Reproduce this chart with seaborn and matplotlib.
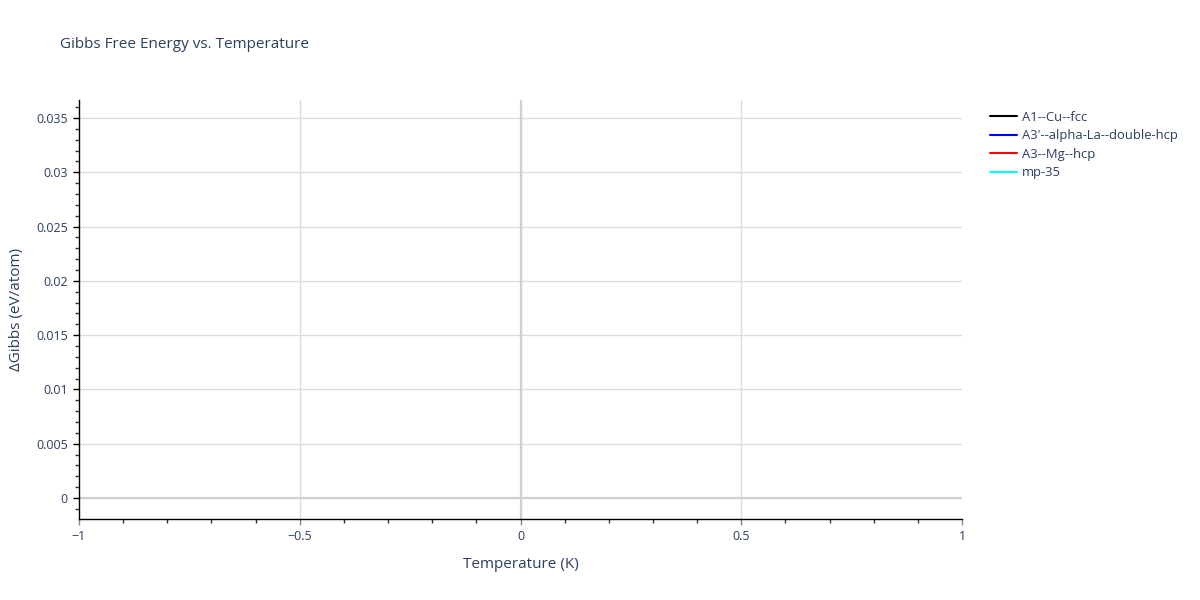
import numpy as np
import pandas as pd
import matplotlib
matplotlib.use("Agg")
import matplotlib.pyplot as plt
from matplotlib.ticker import MultipleLocator, FuncFormatter
import seaborn as sns

# structures in the legend, and their (empty-looking) curves
structures = ["A1--Cu--fcc", "A3'--alpha-La--double-hcp", "A3--Mg--hcp", "mp-35"]
line_colors = ["black", "blue", "red", "cyan"]
temperatures = [0.0]  # only T = 0 K available, so no visible segments
dgibbs = {
    "A1--Cu--fcc": [0.0],
    "A3'--alpha-La--double-hcp": [0.0],
    "A3--Mg--hcp": [0.0],
    "mp-35": [0.0],
}

x_ticks = [-1, -0.5, 0, 0.5, 1]
y_ticks = [0, 0.005, 0.01, 0.015, 0.02, 0.025, 0.03, 0.035]

rows = []
for s in structures:
    for t, g in zip(temperatures, dgibbs[s]):
        rows.append({"Temperature": t, "dG": g, "structure": s})
df = pd.DataFrame(rows)

sns.set_style("white")
plt.rcParams["font.family"] = ["Open Sans", "DejaVu Sans"]
txt = "#2a3f5f"

fig = plt.figure(figsize=(12, 6), dpi=100)
ax = fig.add_axes([79 / 1200, 81 / 600, 883 / 1200, 419 / 600])

sns.lineplot(data=df, x="Temperature", y="dG", hue="structure",
             hue_order=structures, palette=line_colors, ax=ax, lw=1.5)
handles, labels = ax.get_legend_handles_labels()
ax.get_legend().remove()

ax.set_xlim(-1, 1)
ax.set_ylim(-0.00193, 0.03666)
ax.set_xticks(x_ticks)
ax.set_yticks(y_ticks)
ax.xaxis.set_minor_locator(MultipleLocator(0.1))
ax.yaxis.set_minor_locator(MultipleLocator(0.001))
ax.xaxis.set_major_formatter(FuncFormatter(lambda v, p: f"{v:g}".replace("-", "\u2212")))
ax.yaxis.set_major_formatter(FuncFormatter(lambda v, p: f"{v:g}"))

ax.grid(True, which="major", color="#dcdcdc", lw=1.0)
for tk, gl in zip(ax.get_xticks(), ax.get_xgridlines()):
    if abs(tk) == 1:
        gl.set_visible(False)
ax.axhline(0, color="#d0d0d0", lw=1.6, zorder=1)
ax.axvline(0, color="#d0d0d0", lw=1.6, zorder=1)
ax.set_axisbelow(True)

for side in ["top", "right"]:
    ax.spines[side].set_visible(False)
for side in ["left", "bottom"]:
    ax.spines[side].set_color("black")
    ax.spines[side].set_linewidth(1.0)

ax.tick_params(axis="both", which="major", direction="out", length=4, width=1,
               labelsize=9, labelcolor=txt, bottom=True, left=True, pad=4)
ax.tick_params(axis="x", which="major", color="#888888")
ax.tick_params(axis="y", which="major", color="black")
ax.tick_params(axis="both", which="minor", direction="out", length=3, width=1,
               color="#333333", bottom=True, left=True)

ax.set_xlabel("Temperature (K)", fontsize=11, color=txt, labelpad=10)
ax.set_ylabel("\u0394Gibbs (eV/atom)", fontsize=11, color=txt, labelpad=9)
fig.text(60 / 1200, 1 - 45 / 600, "Gibbs Free Energy vs. Temperature",
         fontsize=11, color=txt, va="center", ha="left")

leg = fig.legend(handles, labels, loc="upper left",
                 bbox_to_anchor=(978 / 1200, 1 - 99 / 600),
                 frameon=False, fontsize=9.4, handlelength=2.05,
                 labelspacing=0.42, handletextpad=0.43)
for t in leg.get_texts():
    t.set_color(txt)

fig.savefig("out.png", dpi=100)
